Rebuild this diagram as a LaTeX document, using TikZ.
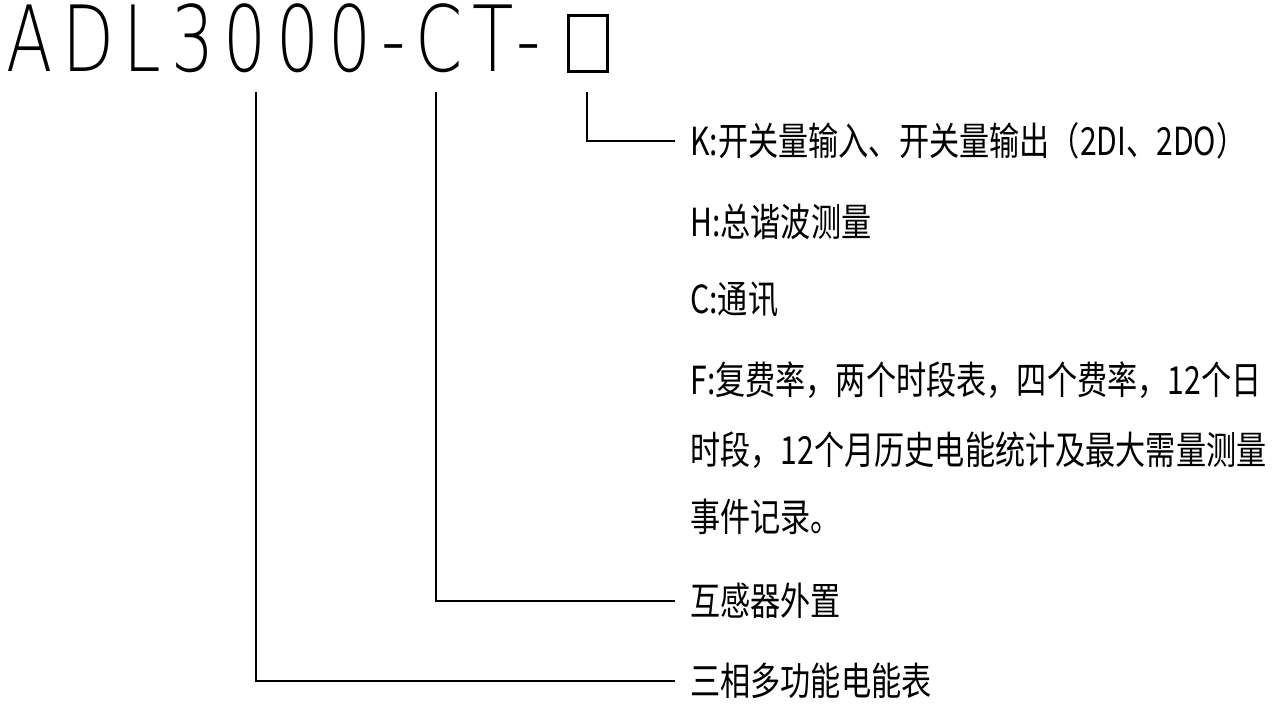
\documentclass[tikz,border=0pt]{standalone}
\usepackage{fontspec}
\usepackage{tikz}
\usetikzlibrary{positioning}
\newfontfamily\cjk[FakeStretch=0.78]{Noto Sans CJK SC}
\newfontfamily\titlefont[FakeStretch=0.74,LetterSpace=10.5]{DejaVu Sans ExtraLight}
\tikzset{
  lead/.style={line width=1.6pt},
  optbox/.style={draw,line width=1.6pt,minimum width=0.78cm,minimum height=1.12cm,inner sep=0pt},
  item/.style={anchor=west,inner sep=0pt,font=\cjk\fontsize{22}{22}\selectfont}
}

\begin{document}
\begin{tikzpicture}[x=0.02cm,y=-0.02cm]
\path[use as bounding box] (0,0) rectangle (1273,710);
% model code
\node[anchor=base west,inner sep=0pt,font=\titlefont\fontsize{52}{52}\selectfont] (code) at (6,71) {ADL3000-CT-};
\node[optbox,anchor=north west] (opt) at (567,14) {};
% options
\node[item] (kopt) at (690,141) {K:开关量输入、开关量输出（2DI、2DO）};
\node[item] (hopt) at (690,222) {H:总谐波测量};
\node[item] (copt) at (690,300) {C:通讯};
\node[item] (fopt) at (690,380) {F:复费率，两个时段表，四个费率，12个日};
\node[item] (fopt2) at (690,450) {时段，12个月历史电能统计及最大需量测量};
\node[item] (fopt3) at (690,517) {事件记录。};
\node[item] (ct) at (690,601) {互感器外置};
\node[item] (adl) at (690,681) {三相多功能电能表};
% leads
\coordinate (ktop) at (587,92);
\coordinate (cttop) at (436,92);
\coordinate (adltop) at (256,92);
\draw[lead] (ktop) |- ([xshift=-0.3cm]kopt.west);
\draw[lead] (cttop) |- ([xshift=-0.3cm]ct.west);
\draw[lead] (adltop) |- ([xshift=-0.3cm]adl.west);
\end{tikzpicture}
\end{document}
